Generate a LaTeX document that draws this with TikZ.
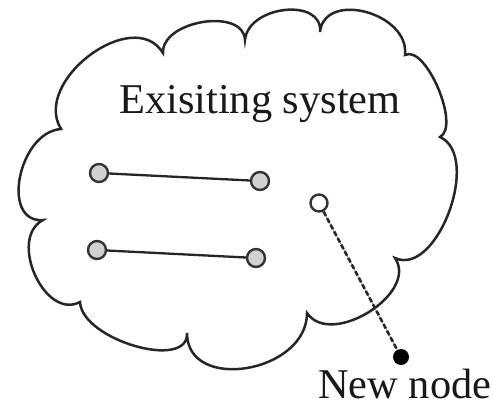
\documentclass[tikz,border=0pt]{standalone}
\usepackage{fontspec}
\setmainfont{Liberation Serif}
\begin{document}
\begin{tikzpicture}[x=1pt,y=-1pt,
  cloudline/.style={line width=2.5pt,line join=miter,black!85},
  sysnode/.style={circle,draw=black!80,fill=black!18,line width=2.4pt,minimum size=18pt,inner sep=0pt},
  newin/.style={circle,draw=black!80,fill=white,line width=2.4pt,minimum size=17pt,inner sep=0pt},
  newout/.style={circle,fill=black,minimum size=16pt,inner sep=0pt},
  link/.style={line width=2.3pt,black!85},
  dashlink/.style={line width=2.6pt,black!85,dash pattern=on 5pt off 2.5pt},
  dashbase/.style={line width=0.8pt,black!45},
  lbl/.style={inner sep=0pt,anchor=base west,font=\fontsize{42.4}{46}\selectfont,text=black!90}]
\useasboundingbox (0,0) rectangle (493,402);
\draw[cloudline] (61,129)
  .. controls (31.7,81) and (133.7,5) .. (163,53)
  .. controls (161.7,20.3) and (243.7,7.3) .. (245,40)
  .. controls (248.3,5.3) and (323.3,-2.7) .. (320,32)
  .. controls (324.7,-10) and (409.7,13) .. (405,55)
  .. controls (425.7,44.3) and (460.7,126.3) .. (440,137)
  .. controls (482,156.3) and (437,277.3) .. (395,258)
  .. controls (419,293.3) and (331,348.3) .. (307,313)
  .. controls (307,373) and (187,393) .. (187,333)
  .. controls (189,371) and (82,340) .. (80,302)
  .. controls (44.7,320.7) and (7.7,238.7) .. (43,220)
  .. controls (0.3,223.3) and (18.3,132.3) .. (61,129) -- cycle;
\node[lbl] (title) at (119,113) {Exisiting system};
\node[sysnode] (a) at (99,173) {};
\node[sysnode] (b) at (260,181) {};
\node[sysnode] (c) at (97,250) {};
\node[sysnode] (d) at (256,258) {};
\node[newin] (w) at (319,203) {};
\node[newout] (n) at (401,357) {};
\draw[link] (a) -- (b);
\draw[link] (c) -- (d);
\draw[dashbase] (w) -- (n);
\draw[dashlink] (w) -- (n);
\node[lbl] (newlbl) at (318,398) {New node};
\end{tikzpicture}
\end{document}
